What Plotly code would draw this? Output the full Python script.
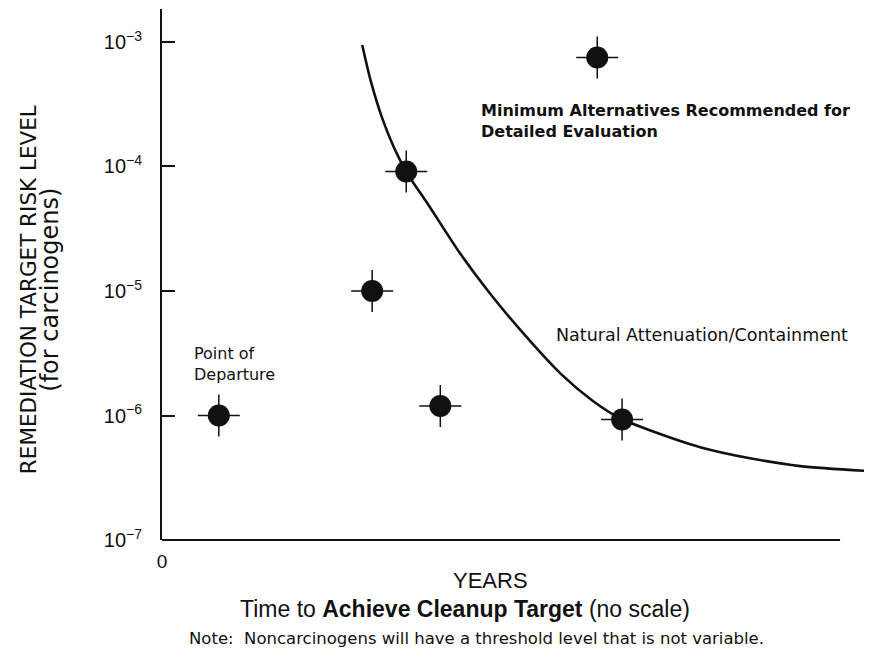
import plotly.graph_objects as go

# ---- data (x: arbitrary "no scale" time units 0-100; y: risk level) ----
point_x = [8.0, 29.6, 34.4, 39.2, 61.3, 64.8]
point_y = [1.0e-6, 1.0e-5, 9.1e-5, 1.19e-6, 7.5e-4, 0.93e-6]

curve_x = [28.2, 29.4, 31.0, 32.7, 34.5, 37.6, 42.0, 46.2, 50.9, 56.1, 60.6, 64.5, 68.7, 75.8, 82.8, 89.9, 100.0]
curve_y = [9.46e-4, 4.87e-4, 2.46e-4, 1.41e-4, 8.9e-5, 4.84e-5, 2.0e-5, 9.55e-6, 4.56e-6, 2.18e-6, 1.32e-6,
           9.5e-7, 7.62e-7, 5.57e-7, 4.54e-7, 3.92e-7, 3.57e-7]

y_tickvals = [1e-7, 1e-6, 1e-5, 1e-4, 1e-3]
y_ticktext = ["10<sup>−7</sup>", "10<sup>−6</sup>", "10<sup>−5</sup>", "10<sup>−4</sup>", "10<sup>−3</sup>"]
x_tickvals = [0]
x_ticktext = ["0"]

INK = "#111111"
SANS = "DejaVu Sans"
HELV = "Liberation Sans"

fig = go.Figure()

fig.add_trace(go.Scatter(x=curve_x, y=curve_y, mode="lines",
                         line=dict(color=INK, width=2.6, shape="spline", smoothing=0.8),
                         hoverinfo="skip", showlegend=False))
fig.add_trace(go.Scatter(x=point_x, y=point_y, mode="markers",
                         marker=dict(symbol="cross-thin", size=30, color=INK,
                                     line=dict(width=1.5, color=INK)),
                         showlegend=False, cliponaxis=False))
fig.add_trace(go.Scatter(x=point_x, y=point_y, mode="markers",
                         marker=dict(symbol="circle", size=22, color=INK, line=dict(width=0)),
                         showlegend=False, cliponaxis=False))

# bottom axis line (shorter than the curve)
fig.add_shape(type="line", xref="x", yref="paper", x0=0, x1=95.5, y0=0, y1=0,
              line=dict(color=INK, width=1.8))

ann = [
    dict(x=4.2, y=-5.59, xref="x", yref="y", text="Point of<br>Departure",
         xanchor="left", yanchor="middle", align="left", showarrow=False,
         font=dict(family=SANS, size=16, color=INK)),
    dict(x=44.7, y=-3.637, xref="x", yref="y",
         text="<b>Minimum Alternatives Recommended for<br>Detailed Evaluation</b>",
         xanchor="left", yanchor="middle", align="left", showarrow=False,
         font=dict(family=SANS, size=16, color=INK)),
    dict(x=55.2, y=-5.357, xref="x", yref="y", text="Natural Attenuation/Containment",
         xanchor="left", yanchor="middle", align="left", showarrow=False,
         font=dict(family=SANS, size=17.5, color=INK)),
    dict(x=0.463, y=-0.0772, xref="paper", yref="paper", text="YEARS",
         xanchor="center", yanchor="middle", showarrow=False,
         font=dict(family=HELV, size=22, color=INK)),
    dict(x=0.427, y=-0.130, xref="paper", yref="paper",
         text="Time to <b>Achieve Cleanup Target</b> (no scale)",
         xanchor="center", yanchor="middle", showarrow=False,
         font=dict(family=HELV, size=23, color=INK)),
    dict(x=0.443, y=-0.1846, xref="paper", yref="paper",
         text="Note:  Noncarcinogens will have a threshold level that is not variable.",
         xanchor="center", yanchor="middle", showarrow=False,
         font=dict(family=SANS, size=16.5, color=INK)),
    dict(x=-0.187, y=0.471, xref="paper", yref="paper",
         text="REMEDIATION TARGET RISK LEVEL", textangle=-90,
         xanchor="center", yanchor="middle", showarrow=False,
         font=dict(family=SANS, size=21.5, color=INK)),
    dict(x=-0.158, y=0.471, xref="paper", yref="paper",
         text="(for carcinogens)", textangle=-90,
         xanchor="center", yanchor="middle", showarrow=False,
         font=dict(family=SANS, size=24, color=INK)),
]

fig.update_layout(
    width=864, height=651,
    margin=dict(l=154, r=0, t=1, b=119),
    paper_bgcolor="white", plot_bgcolor="white",
    showlegend=False,
    annotations=ann,
    xaxis=dict(range=[0, 100], showline=False, showgrid=False, zeroline=False,
               tickmode="array", tickvals=x_tickvals, ticktext=x_ticktext, ticks="",
               ticklabelstandoff=8,
               tickfont=dict(family=HELV, size=19, color=INK), fixedrange=True),
    yaxis=dict(type="log", range=[-7, -2.735], showline=True, linecolor=INK, linewidth=2,
               showgrid=False, zeroline=False,
               tickmode="array", tickvals=y_tickvals, ticktext=y_ticktext,
               ticks="inside", ticklen=13, tickwidth=1.5, tickcolor=INK,
               ticklabelstandoff=14,
               tickfont=dict(family=HELV, size=20, color=INK), fixedrange=True),
)

fig.write_html("out.html")
